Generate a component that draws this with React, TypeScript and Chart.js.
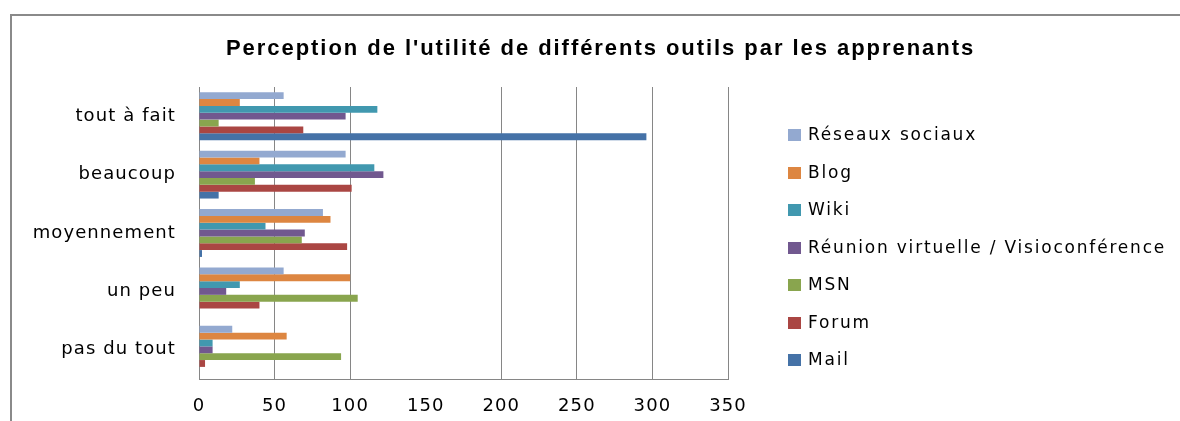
import { useEffect, useRef } from 'react';
import { Chart, registerables } from 'chart.js';

Chart.register(...registerables);

const titleText = "Perception de l'utilité de différents outils par les apprenants";
const categories = ['tout à fait', 'beaucoup', 'moyennement', 'un peu', 'pas du tout'];
const seriesNames = ['Réseaux sociaux', 'Blog', 'Wiki', 'Réunion virtuelle / Visioconférence', 'MSN', 'Forum', 'Mail'];
const reseauxSociaux = [56, 97, 82, 56, 22];
const blog = [27, 40, 87, 100, 58];
const wiki = [118, 116, 44, 27, 9];
const reunionVirtuelle = [97, 122, 70, 18, 9];
const msn = [13, 37, 68, 105, 94];
const forum = [69, 101, 98, 40, 4];
const mail = [296, 13, 2, 0, 0];
const xTickValues = [0, 50, 100, 150, 200, 250, 300, 350];
const seriesColors = ['#93A9D0', '#DD8641', '#4198AF', '#71588F', '#89A54E', '#AA4643', '#4572A7'];

const seriesValues = [reseauxSociaux, blog, wiki, reunionVirtuelle, msn, forum, mail];

const decorPlugin = {
  id: 'decor',
  beforeDraw(chart: any) {
    const ctx = chart.ctx;
    ctx.save();
    ctx.fillStyle = '#ffffff';
    ctx.fillRect(0, 0, chart.width, chart.height);
    ctx.restore();
    ctx.letterSpacing = '1.1px';
  },
  afterDraw(chart: any) {
    const ctx = chart.ctx;
    ctx.save();
    // outer frame
    ctx.strokeStyle = '#8a8a8a';
    ctx.lineWidth = 2;
    ctx.beginPath();
    ctx.moveTo(11, chart.height);
    ctx.lineTo(11, 15);
    ctx.lineTo(chart.width, 15);
    ctx.stroke();

    // title
    ctx.fillStyle = '#000';
    ctx.textAlign = 'left';
    ctx.textBaseline = 'alphabetic';
    ctx.font = 'bold 22px "Liberation Sans"';
    ctx.letterSpacing = '0px';
    const tw = ctx.measureText(titleText).width;
    ctx.letterSpacing = ((749 - tw) / titleText.length).toFixed(2) + 'px';
    ctx.fillText(titleText, 226, 55);

    // legend
    const ds = chart.data.datasets;
    ctx.font = '17px "DejaVu Sans"';
    ctx.letterSpacing = '0px';
    let longest = 0;
    let longestLen = 1;
    ds.forEach((d: any) => {
      const w = ctx.measureText(d.label).width;
      if (w > longest) { longest = w; longestLen = d.label.length; }
    });
    ctx.letterSpacing = ((358 - longest) / longestLen).toFixed(2) + 'px';
    ctx.textBaseline = 'middle';
    ds.forEach((d: any, i: number) => {
      const y = 135 + i * 37.5;
      ctx.fillStyle = d.backgroundColor;
      ctx.fillRect(788, Math.round(y - 6), 13, 12);
      ctx.fillStyle = '#000';
      ctx.fillText(d.label, 808, y + 1);
    });
    ctx.restore();
  },
};

export default function App() {
  const ref = useRef<HTMLCanvasElement | null>(null);

  useEffect(() => {
    document.body.style.margin = '0';
    const canvas = ref.current;
    if (!canvas) return;
    const chart = new Chart(canvas, {
      type: 'bar',
      data: {
        labels: categories,
        datasets: seriesNames.map((name, i) => ({
          label: name,
          data: seriesValues[i],
          backgroundColor: seriesColors[i],
          borderWidth: 0,
          categoryPercentage: 0.82,
          barPercentage: 1.0,
        })),
      },
      options: {
        indexAxis: 'y',
        responsive: false,
        animation: false,
        layout: { padding: { left: 0, top: 87, right: 452, bottom: 0 } },
        plugins: {
          legend: { display: false },
          title: { display: false },
          tooltip: { enabled: false },
        },
        scales: {
          x: {
            min: 0,
            max: 350,
            afterBuildTicks: (s: any) => {
              s.ticks = xTickValues.map((v) => ({ value: v }));
            },
            afterFit: (s: any) => {
              s.height = 42;
            },
            ticks: {
              color: '#000',
              font: { family: 'DejaVu Sans', size: 18 },
              padding: 17,
              maxRotation: 0,
            },
            grid: {
              drawTicks: false,
              color: (c: any) => (c.tick && c.tick.value === 150 ? 'rgba(0,0,0,0)' : '#868686'),
              lineWidth: 1,
            },
            border: { color: '#868686', width: 1 },
          },
          y: {
            afterFit: (s: any) => {
              s.width = 199;
            },
            ticks: {
              color: '#000',
              font: { family: 'DejaVu Sans', size: 18 },
              padding: 23,
            },
            grid: { drawTicks: false, color: 'rgba(0,0,0,0)' },
            border: { color: '#868686', width: 1 },
          },
        },
      },
      plugins: [decorPlugin],
    } as any);
    return () => chart.destroy();
  }, []);

  return <canvas ref={ref} width={1180} height={421} style={{ display: 'block', width: 1180, height: 421 }} />;
}
